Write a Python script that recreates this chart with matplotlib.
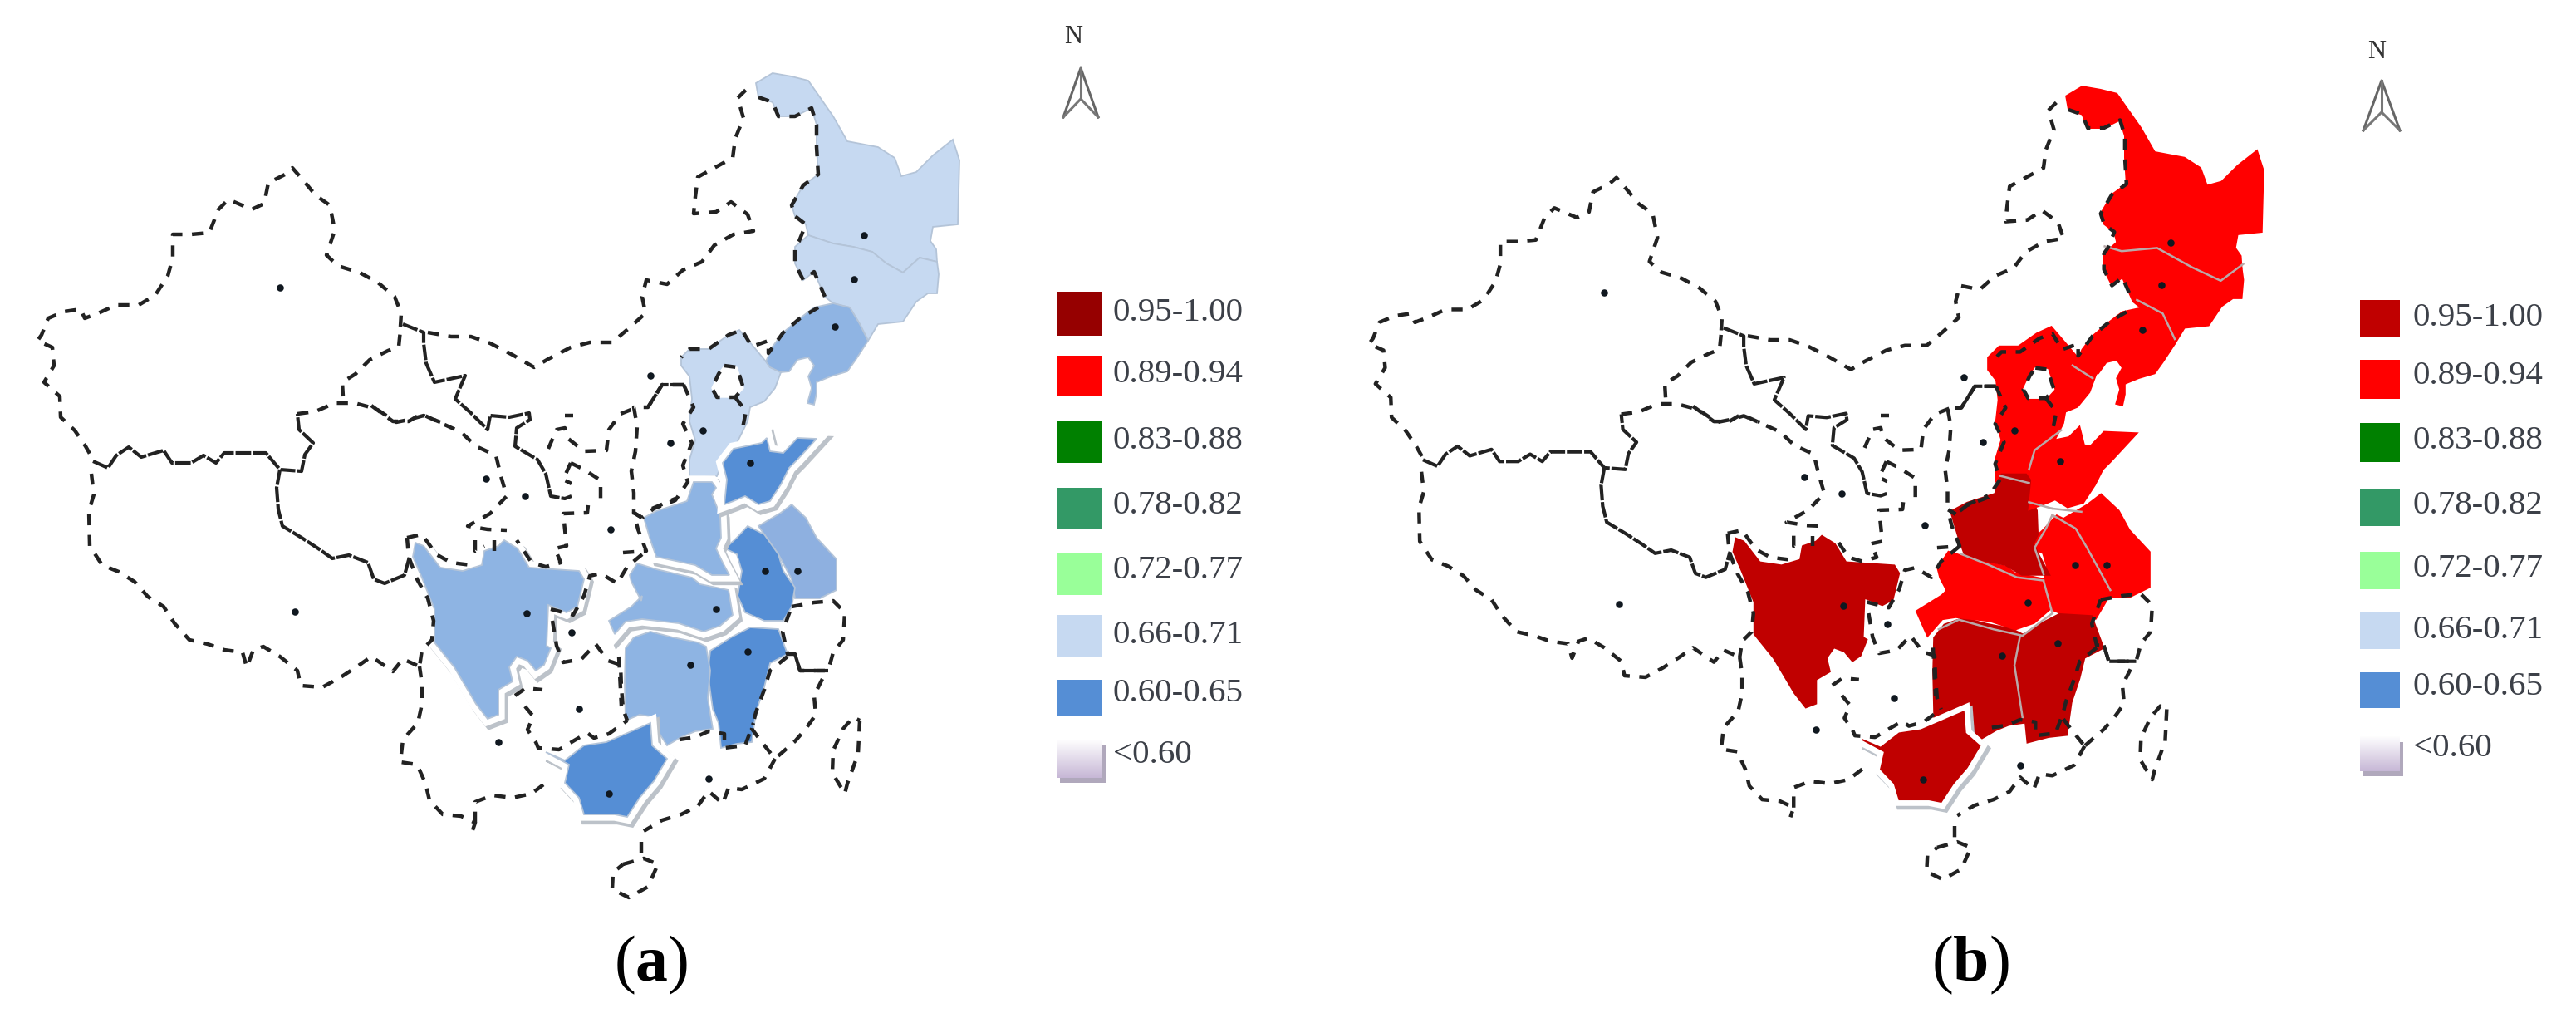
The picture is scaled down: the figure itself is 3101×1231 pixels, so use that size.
import matplotlib
matplotlib.use("Agg")
import matplotlib.pyplot as plt
import matplotlib.patheffects as pe
from matplotlib.patches import Polygon, Rectangle
import numpy as np

plt.rcParams['font.family'] = ['Liberation Serif', 'DejaVu Serif']
plt.rcParams['mathtext.fontset'] = 'custom'
plt.rcParams['mathtext.bf'] = 'Liberation Serif:bold'
plt.rcParams['mathtext.rm'] = 'Liberation Serif'

W, H = 3101, 1231

# legend
legend_labels = ['0.95-1.00', '0.89-0.94', '0.83-0.88', '0.78-0.82',
                 '0.72-0.77', '0.66-0.71', '0.60-0.65', '<0.60']
legend_colors_a = ['#960000', '#ff0000', '#008000', '#339966',
                   '#99ff99', '#c6d9f1', '#558ed5', None]
legend_colors_b = ['#c00000', '#ff0000', '#008000', '#339966',
                   '#99ff99', '#c6d9f1', '#558ed5', None]

# province outlines, map units = pixels of the left map
heilongjiang = [(910,100),(930,88),(953,92),(973,97),(987,117),(1003,140),(1020,170),(1057,177),(1077,190),
                (1085,212),(1103,207),(1123,187),(1147,168),(1155,193),(1153,270),(1123,273),(1120,290),(1127,300),(1128,315),
                (1107,310),(1087,328),(1067,317),(1050,303),(1027,297),(1003,293),(973,283),(970,270),(957,260),
                (953,247),(967,223),(985,210),(983,177),(983,150),(977,130),(957,140),(937,140),(930,123),(913,117)]
jilin = [(973,283),(1003,293),(1027,297),(1050,303),(1067,317),(1087,328),(1107,310),(1128,315),(1130,330),(1128,353),
         (1117,353),(1103,363),(1087,387),(1057,390),(1045,410),(1035,390),(1023,370),(1003,365),(993,357),(980,327),
         (967,337),(957,317),(957,297)]
liaoning = [(922,435),(930,417),(943,400),(963,383),(980,370),(1003,365),(1023,370),(1035,390),(1045,410),(1030,433),
            (1020,447),(1000,453),(983,460),(983,473),(980,487),(972,485),(977,467),(973,453),(980,440),(973,430),
            (960,433),(950,447),(940,448),(927,442)]
hebei = [(820,430),(830,420),(853,420),(877,403),(890,397),(907,417),(922,435),(927,442),(940,448),(933,467),(920,483),
         (903,490),(900,507),(887,533),(873,547),(867,563),(863,573),(830,575),(830,553),(837,530),(830,507),(833,480),
         (830,453),(820,440)]
beijing_hole = [(872,440),(887,442),(895,467),(885,478),(863,478),(857,467),(865,450)]
shandong = [(870,557),(883,540),(917,533),(923,527),(927,543),(943,545),(960,527),(983,528),(960,553),(950,563),
            (940,583),(927,603),(913,607),(897,597),(883,603),(872,607),(875,577)]
henan = [(775,623),(790,615),(827,603),(835,580),(857,580),(862,587),(857,595),(867,620),(868,647),(862,660),(870,677),
         (878,692),(857,692),(837,680),(790,670),(783,650)]
hubei = [(758,692),(767,678),(790,685),(833,695),(843,703),(877,710),(882,740),(867,753),(847,760),(817,750),(773,745),
         (753,748),(740,763),(733,747),(760,730),(773,717),(772,723),(760,700)]
hunan = [(753,780),(763,767),(783,760),(810,767),(840,773),(850,778),(855,807),(852,840),(858,877),(837,880),(820,887),
         (803,897),(792,880),(790,863),(770,860),(753,867),(752,820)]
jiangxi = [(855,783),(880,767),(903,755),(937,757),(948,787),(927,798),(920,827),(910,857),(905,893),(887,895),(868,900),
           (865,870),(858,853),(852,810)]
anhui = [(900,633),(920,643),(937,667),(943,687),(957,707),(953,730),(943,747),(920,747),(897,737),(888,717),(893,687),
         (887,667),(873,660),(887,647)]
jiangsu = [(913,633),(940,617),(953,607),(970,623),(983,647),(1007,673),(1007,710),(987,720),(957,720),(953,697),(937,667),
           (920,643)]
sichuan = [(500,653),(510,657),(530,683),(557,687),(580,680),(583,663),(600,657),(607,650),(623,660),(637,683),(697,687),
           (703,697),(695,730),(682,737),(660,728),(658,777),(663,780),(655,800),(645,807),(635,795),(622,790),(613,803),
           (617,820),(600,830),(600,860),(587,865),(573,847),(547,803),(523,773),(523,733),(507,693),(497,670)]
guangxi = [(657,905),(680,915),(703,897),(730,893),(760,880),(783,870),(785,897),(803,913),(787,940),(770,960),(755,983),
           (740,980),(727,980),(703,980),(697,960),(680,942),(685,920)]

fills_a = [(heilongjiang, '#c6d9f1'), (jilin, '#c6d9f1'), (hebei, '#c6d9f1'), (liaoning, '#8fb4e3'),
           (jiangsu, '#8eb0e0'), (anhui, '#558ed5'), (jiangxi, '#558ed5'), (hunan, '#8eb4e3'),
           (hubei, '#8eb4e3'), (henan, '#8eb4e3'), (shandong, '#558ed5'), (sichuan, '#8eb4e3'), (guangxi, '#558ed5')]
halo_a = [hubei, henan, shandong, sichuan, guangxi]
grow_a = []
fills_b = [(heilongjiang, '#ff0000'), (jilin, '#ff0000'), (hebei, '#ff0000'), (liaoning, '#ff0000'),
           (jiangsu, '#ff0000'), (anhui, '#ff0000'), (jiangxi, '#c00000'), (hunan, '#c00000'),
           (hubei, '#ff0000'), (henan, '#c00000'), (shandong, '#ff0000'), (sichuan, '#c00000'), (guangxi, '#c00000')]
halo_b = [guangxi]
grow_b = [jiangsu, anhui, jiangxi, hunan, hubei, henan, shandong, hebei]

# grey lines between the provinces of the right map
seam_hunan_jiangxi = [(853,775),(846,812),(856,877)]
seam_hubei_hunan = [(752,767),(777,755),(820,767),(856,775),(893,747)]
seam_henan_hubei = [(780,673),(813,686),(849,702),(882,706)]
seam_henan_anhui = [(882,698),(871,665),(885,641),(893,624)]
seam_anhui_jiangsu = [(893,624),(922,641),(936,665),(965,718)]
seam_anhui_hubei = [(882,706),(893,747)]
seam_shandong_jiangsu = [(893,616),(929,620)]
seam_hebei_shandong = [(864,567),(871,543),(904,518)]
seam_hebei_henan = [(828,575),(864,584)]
seam_henan_shandong = [(864,608),(893,616)]
seam_hei_ji = [(958,288),(979,294),(1023,290),(1066,314),(1102,331),(1130,310)]
seam_ji_liao = [(998,355),(1030,372),(1045,404)]
seam_hebei_liao = [(918,437),(943,453)]
seams = [seam_hunan_jiangxi, seam_hubei_hunan, seam_henan_hubei, seam_henan_anhui, seam_anhui_jiangsu, seam_anhui_hubei,
         seam_shandong_jiangsu, seam_hebei_shandong, seam_hebei_henan, seam_henan_shandong, seam_hei_ji, seam_ji_liao,
         seam_hebei_liao]

# dashed borders
xinjiang = [(482,393),(483,377),(475,357),(455,340),(433,328),(407,320),(393,307),(403,277),(397,247),(380,235),(365,217),
            (352,202),(343,210),(323,220),(318,245),(303,252),(275,240),(263,252),(252,280),(230,282),(208,282),(208,310),
            (202,332),(187,355),(167,367),(140,367),(118,377),(102,383),(97,372),(77,375),(58,383),(50,403),(45,410),
            (63,418),(65,440),(53,460),(72,477),(73,502),(90,518),(103,537),(112,553)]
xinjiang_gansu = [(413,477),(412,460),(428,450),(445,433),(467,422),(480,417),(482,397)]
qinghai_north = [(358,498),(380,495),(403,485),(427,485),(453,492),(477,508),(492,505),(510,500),(530,508)]
gansu_south = [(447,488),(473,507),(492,507),(507,498),(533,510),(555,520),(573,537),(597,548),(603,573),(610,597),
               (590,618),(563,633),(587,637),(610,638)]
north_border = [(515,400),(543,405),(567,405),(590,413),(617,427),(643,442),(660,432),(687,418),(710,412),(737,412),
                (757,395),(777,377),(773,357),(778,337),(803,342),(822,325),(845,315),(860,295),(883,282),(907,278),
                (900,258),(880,243),(862,255),(835,257),(837,237),(840,213),(858,203),(882,190),(885,167),(895,142),
                (888,118),(903,103)]
hei_west = [(913,117),(930,123),(937,140),(957,140),(977,130),(983,150),(983,177),(985,210),(967,223),(953,247),(957,260),
            (970,270),(962,290),(957,297),(957,317),(967,337),(980,327),(993,357)]
liao_west = [(985,370),(963,383),(943,400),(925,425),(925,410),(905,417),(893,397),(877,403),(853,420),(830,420),(820,430)]
shanxi_west = [(823,463),(797,463),(780,490),(763,490),(767,513),(765,543),(760,567),(763,593),(763,617),(773,623)]
shanxi_east = [(823,463),(835,490),(822,510),(833,533),(822,560),(828,580),(813,602),(787,612),(773,623)]
beijing_line = [(872,440),(887,442),(895,467),(885,478),(863,478),(857,467),(865,450),(872,440)]
tianjin_line = [(885,478),(898,495),(893,520)]
ningxia_a = [(660,540),(670,517),(680,515),(683,527),(693,535),(703,543),(730,542),(733,517),(747,498),(767,490)]
ningxia_b = [(680,500),(690,500)]
shaanxi_a = [(687,557),(703,565),(723,578),(723,607)]
shaanxi_b = [(687,557),(678,577),(688,582)]
shaanxi_c = [(708,608),(707,617),(678,618),(682,657),(668,660),(675,677),(657,682),(640,677),(622,650)]
sichuan_north = [(490,647),(508,643),(525,667),(543,677),(567,680)]
small_mark_a = [(572,650),(572,663),(583,657)]
small_mark_b = [(595,650),(595,663)]
tibet_south = [(110,570),(113,595),(107,615),(108,657),(123,680),(143,688),(162,700),(178,718),(197,730),(210,750),
               (228,770),(250,775),(270,782),(292,785),(297,803),(305,782),(317,778),(337,790),(358,807),(362,825),
               (388,827),(410,815),(430,802),(447,790),(473,808),(485,793),(505,802)]
sichuan_west = [(490,647),(492,670),(502,697),(515,720),(522,747),(520,770),(508,782),(505,802)]
yunnan = [(505,802),(508,823),(508,847),(503,870),(485,890),(482,917),(502,920),(512,942),(517,963),(533,980),(555,982),
          (572,990),(568,1002)]
yunnan_south = [(572,990),(572,965),(593,957),(617,960),(640,955),(657,942)]
guizhou = [(620,837),(633,828),(653,830)]
guizhou_b = [(632,850),(642,862),(635,878),(645,893),(648,900),(673,902),(693,890),(707,882),(715,888),(733,883),(755,867)]
chongqing = [(665,747),(670,777),(678,797),(700,793),(717,775),(732,795),(747,800),(748,827),(750,853),(755,867)]
hubei_top = [(663,733),(690,740),(703,717),(710,693),(723,690),(743,702),(755,682),(778,663)]
hubei_top_b = [(750,665),(778,663),(768,637),(763,617),(773,623)]
henan_top = [(785,612),(813,600)]
zhejiang = [(953,730),(980,725),(1003,723),(1017,737),(1015,770),(1003,785),(997,807),(963,807),(957,787),(948,787),
            (942,760),(953,730)]
fujian = [(990,817),(980,837),(982,860),(970,877),(957,892),(933,913)]
jiangxi_east = [(948,790),(927,807),(920,830),(910,857),(905,877),(917,893),(933,913)]
guangdong = [(933,913),(920,937),(893,950),(877,948),(870,967),(853,952),(840,970),(820,980),(797,987),(775,1000)]
guangdong_north = [(818,890),(837,887),(853,880),(872,883),(872,900),(897,897),(907,870)]
hunan_west = [(745,790),(748,850)]
taiwan = [(1035,867),(1033,907),(1020,943),(1017,955),(1002,930),(1003,903),(1015,877),(1027,863),(1035,867)]
hainan = [(750,1040),(775,1033),(792,1040),(780,1067),(757,1080),(737,1070),(738,1050),(750,1040)]
hainan_link = [(772,1013),(772,1033)]

dashed_borders = [xinjiang, xinjiang_gansu, qinghai_north, gansu_south, north_border, hei_west, liao_west, shanxi_west,
                  shanxi_east, beijing_line, tianjin_line, ningxia_a, ningxia_b, shaanxi_a, shaanxi_b, shaanxi_c,
                  sichuan_north, small_mark_a, small_mark_b, tibet_south, sichuan_west, yunnan, yunnan_south, guizhou,
                  guizhou_b, chongqing, hubei_top, hubei_top_b, henan_top, zhejiang, fujian, jiangxi_east, guangdong,
                  guangdong_north, hunan_west, taiwan, hainan, hainan_link]

# the nearly solid stretches
xinjiang_tibet = [(112,555),(130,563),(140,548),(155,538),(170,550),(197,542),(207,557),(230,557),(245,548),(260,557),
                  (270,545),(293,545),(320,545),(337,565),(363,567),(367,547),(377,533),(360,517),(358,498)]
qinghai_tibet = [(337,565),(333,587),(335,613),(340,633),(363,647),(383,660),(400,672),(420,668),(443,677),(450,697),
                 (463,702),(487,692),(493,670)]
gansu_east = [(485,390),(510,400),(510,413),(513,437),(523,460),(560,452),(548,480),(567,497),(587,517),(590,500),
              (613,502),(637,497),(638,505),(622,515),(620,537),(647,553),(657,570),(663,597),(680,600),(688,597)]
shanxi_top = [(780,490),(797,463),(823,463)]
zhejiang_low = [(957,787),(963,807),(997,807)]
solid_borders = [xinjiang_tibet, qinghai_tibet, gansu_east, shanxi_top, zhejiang_low]

city_x = [337,355,585,632,783,807,735,688,697,600,1040,1028,1005,846,903,862,634,831,900,921,960,733,853]
city_y = [346,736,576,597,452,533,637,761,853,893,283,336,393,518,557,733,738,800,784,687,687,955,937]


def px_axes(fig, left, top, right, bottom):
    ax = fig.add_axes([left / W, 1 - bottom / H, (right - left) / W, (bottom - top) / H])
    ax.axis('off')
    return ax


def draw_map(ax, fills, halos, grow, edge, seam_lines):
    ax.set_xlim(0, 1300)
    ax.set_ylim(1231, 0)
    for z, (outline, color) in enumerate(fills):
        # edge=None means the outline takes the fill colour
        poly = Polygon(outline, closed=True, facecolor=color, edgecolor=edge or color, linewidth=1.3, zorder=2 + z * 0.01)
        if outline in halos:
            poly.set_path_effects([pe.Stroke(linewidth=11.5, foreground='#bcc2c9', offset=(2.5, -3)),
                                   pe.Stroke(linewidth=11, foreground='white'),
                                   pe.Normal()])
        elif outline in grow:
            poly.set_path_effects([pe.Stroke(linewidth=11, foreground=color), pe.Normal()])
        ax.add_patch(poly)
    hole = np.array(beijing_hole)
    ax.fill(hole[:, 0], hole[:, 1], color='white', zorder=2.5)
    for line in seam_lines:
        pts = np.array(line)
        ax.plot(pts[:, 0], pts[:, 1], color='#b9a9a9', lw=1.8, zorder=2.6)
    for line in dashed_borders:
        pts = np.array(line)
        ax.plot(pts[:, 0], pts[:, 1], color='#222222', lw=3.2, ls=(0, (3, 2.6)), zorder=3,
                solid_capstyle='butt', dash_capstyle='butt')
    for line in solid_borders:
        pts = np.array(line)
        ax.plot(pts[:, 0], pts[:, 1], color='#222222', lw=3, ls=(0, (4.5, 0.5)), zorder=3, dash_capstyle='butt')
    ax.scatter(city_x, city_y, s=38, marker='o', color='#101820', linewidths=0, zorder=4)


def draw_north(ax, nx, ny, x0, x1, apex, base):
    ax.text(nx, ny, 'N', ha='center', va='center', fontsize=22, color='#333333')
    mid = (x0 + x1) / 2
    ax.plot([x0, mid, x1], [base, apex, base], color='#666666', lw=2.2)
    ax.plot([x0, mid, x1], [base, base - 22, base], color='#777777', lw=2.2)
    ax.plot([mid, mid], [apex, base - 22], color='#777777', lw=2.2)


def draw_legend(ax, colors, x0, x1, tx, ys, tys):
    for label, color, (top, bottom), ty in zip(legend_labels, colors, ys, tys):
        if color is None:
            ax.add_patch(Rectangle((x0 + 4, top + 8), x1 - x0, bottom - top - 6, color='#b0a8bc', lw=0))
            grad = np.linspace(0, 1, 40)[:, None]
            cols = np.ones((40, 1, 3)) * (1 - grad[:, :, None]) + np.array([[[0.78, 0.72, 0.84]]]) * grad[:, :, None]
            ax.imshow(cols, extent=(x0, x1, bottom - 4, top), aspect='auto', zorder=2)
        else:
            ax.add_patch(Rectangle((x0, top), x1 - x0, bottom - top, color=color, lw=0))
        ax.text(tx, ty, label, ha='left', va='center', fontsize=29.5, color='#3c4048')
    ax.set_xlim(0, W)
    ax.set_ylim(H, 0)


fig = plt.figure(figsize=(W / 100, H / 100), dpi=100, facecolor='white')

ax_a = px_axes(fig, 0, 0, 1300, 1231)
draw_map(ax_a, fills_a, halo_a, grow_a, '#b4c4d8', [])

ax_b = px_axes(fig, 1604.4, 19.4, 2865.4, 1203.6)
draw_map(ax_b, fills_b, halo_b, grow_b, None, seams)

overlay = px_axes(fig, 0, 0, W, H)
overlay.patch.set_alpha(0)

rows_a = [(351,404),(428,477),(506,557),(587,637),(666,716),(740,790),(818,861),(889,940)]
text_a = [376,450,531,609,687,765,835,909]
rows_b = [(361,405),(433,480),(509,556),(589,633),(664,709),(737,781),(809,852),(885,932)]
text_b = [382,453,530,608,684,758,827,900]
draw_legend(overlay, legend_colors_a, 1272, 1327, 1340, rows_a, text_a)
draw_legend(overlay, legend_colors_b, 2841, 2889, 2905, rows_b, text_b)
draw_north(overlay, 1292, 45, 1280, 1322, 82, 141)
draw_north(overlay, 2861, 63, 2845, 2889, 97, 157)

overlay.text(784, 1161, r'($\mathbf{a}$)', ha='center', va='center', fontsize=56, color='black')
overlay.text(2372, 1161, r'($\mathbf{b}$)', ha='center', va='center', fontsize=56, color='black')

fig.savefig('out.png', dpi=100, facecolor='white')
